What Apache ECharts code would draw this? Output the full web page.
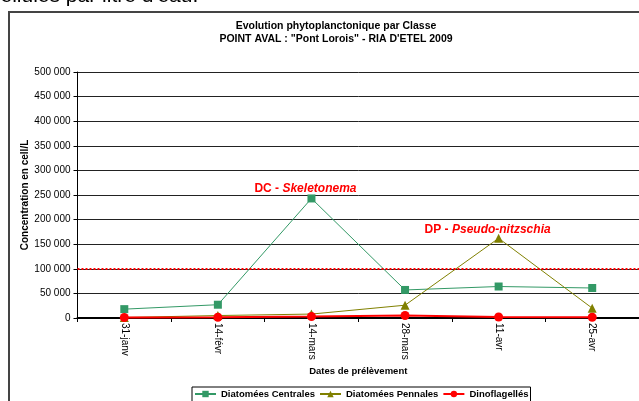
<!DOCTYPE html>
<html>
<head>
<meta charset="utf-8">
<script src="https://cdn.jsdelivr.net/npm/echarts@6/dist/echarts.min.js"></script>
<style>html,body{margin:0;padding:0;background:#fff;}#c{width:639px;height:401px;}</style>
</head>
<body>
<div id="c"></div>
<script>
var categories = ['31-janv', '14-févr', '14-mars', '28-mars', '11-avr', '25-avr'];
var centrales = [18000, 27000, 243000, 57000, 64000, 61000];
var pennales = [1000, 5000, 8000, 26000, 162000, 20000];
var dinos = [1000, 1500, 3000, 5000, 2000, 1500];
var seuil = 100000;
var seriesNames = ['Diatomées Centrales', 'Diatomées Pennales', 'Dinoflagellés'];
var titleLines = ['Evolution phytoplanctonique par Classe', 'POINT AVAL : "Pont Lorois" - RIA D\'ETEL 2009'];

var font = 'Liberation Sans, Arial, sans-serif';
function fmt(v){ return String(v).replace(/\B(?=(\d{3})+(?!\d))/g, ' '); }

var chart = echarts.init(document.getElementById('c'), null, {renderer:'canvas'});
chart.setOption({
  animation: false,
  backgroundColor: '#fff',
  textStyle: {fontFamily: font},
  graphic: [
    {type:'rect', shape:{x:9, y:12, width:660, height:420}, style:{fill:'#fff', stroke:'#444', lineWidth:2}, z:-10},
    {type:'text', left:-10, top:-14, style:{text:"cellules par litre d'eau.", font:'21px Liberation Sans, Arial', fill:'#000'}}
  ],
  title: {
    text: titleLines.join('\n'),
    left: 331, top: 15, textAlign: 'center',
    textStyle: {fontSize: 10.5, fontWeight: 'bold', color: '#000', lineHeight: 13, fontFamily: font}
  },
  legend: {
    data: seriesNames,
    left: 192, top: 387,
    itemWidth: 21, itemHeight: 8, itemGap: 4,
    padding: [2, 2, 3, 2],
    borderColor: '#000', borderWidth: 1,
    textStyle: {fontSize: 9.5, fontWeight: 'bold', color: '#000', fontFamily: font}
  },
  grid: {left: 77.5, top: 72, width: 566, height: 246},
  xAxis: {
    type: 'category', data: categories, boundaryGap: true,
    name: 'Dates de prélèvement', nameLocation: 'middle', nameGap: 48, nameMoveOverlap: false,
    nameTextStyle: {fontSize: 9.5, fontWeight: 'bold', color: '#000', fontFamily: font},
    axisLine: {lineStyle: {color: '#000', width: 2}},
    axisTick: {show: true, length: 4, lineStyle: {color: '#000'}},
    axisLabel: {rotate: -90, fontSize: 10, color: '#000', margin: 5, fontFamily: font},
    splitLine: {show: false}
  },
  yAxis: {
    type: 'value', min: 0, max: 500000, interval: 50000,
    name: 'Concentration en cell/L', nameLocation: 'middle', nameGap: 47, nameMoveOverlap: false,
    nameTextStyle: {fontSize: 10, fontWeight: 'bold', color: '#000', fontFamily: font},
    axisLine: {show: true, lineStyle: {color: '#000', width: 1}},
    axisTick: {show: true, length: 4, lineStyle: {color: '#000'}},
    axisLabel: {fontSize: 10, color: '#000', margin: 7, formatter: fmt, fontFamily: font},
    splitLine: {show: true, lineStyle: {color: '#222', width: 1}}
  },
  series: [
    {
      name: seriesNames[0], type: 'line', data: centrales,
      symbol: 'rect', symbolSize: 8,
      itemStyle: {color: '#339966'}, lineStyle: {color: '#339966', width: 1},
      z: 3,
      markPoint: {
        symbol: 'rect', symbolSize: 0, silent: true,
        data: [{coord: [2, centrales[2]], value: 'DC'}],
        label: {
          show: true, position: 'inside', offset: [-6, -10],
          formatter: '{a|DC - }{b|Skeletonema}',
          rich: {
            a: {fontSize: 12, fontWeight: 'bold', color: '#ff0000', fontFamily: font},
            b: {fontSize: 12, fontWeight: 'bold', fontStyle: 'italic', color: '#ff0000', fontFamily: font}
          }
        }
      }
    },
    {
      name: seriesNames[1], type: 'line', data: pennales,
      symbol: 'triangle', symbolSize: 9,
      itemStyle: {color: '#808000'}, lineStyle: {color: '#808000', width: 1},
      z: 4,
      markPoint: {
        symbol: 'rect', symbolSize: 0, silent: true,
        data: [{coord: [4, pennales[4]], value: 'DP'}],
        label: {
          show: true, position: 'inside', offset: [-11, -9],
          formatter: '{a|DP - }{b|Pseudo-nitzschia}',
          rich: {
            a: {fontSize: 12, fontWeight: 'bold', color: '#ff0000', fontFamily: font},
            b: {fontSize: 12, fontWeight: 'bold', fontStyle: 'italic', color: '#ff0000', fontFamily: font}
          }
        }
      }
    },
    {
      name: seriesNames[2], type: 'line', data: dinos,
      symbol: 'circle', symbolSize: 9,
      itemStyle: {color: '#ff0000'}, lineStyle: {color: '#ff0000', width: 2},
      z: 5,
      markLine: {
        silent: true, symbol: 'none',
        label: {show: false},
        lineStyle: {color: '#ff0000', type: [2, 2], width: 2},
        data: [{yAxis: seuil}]
      }
    }
  ]
});
</script>
</body>
</html>
